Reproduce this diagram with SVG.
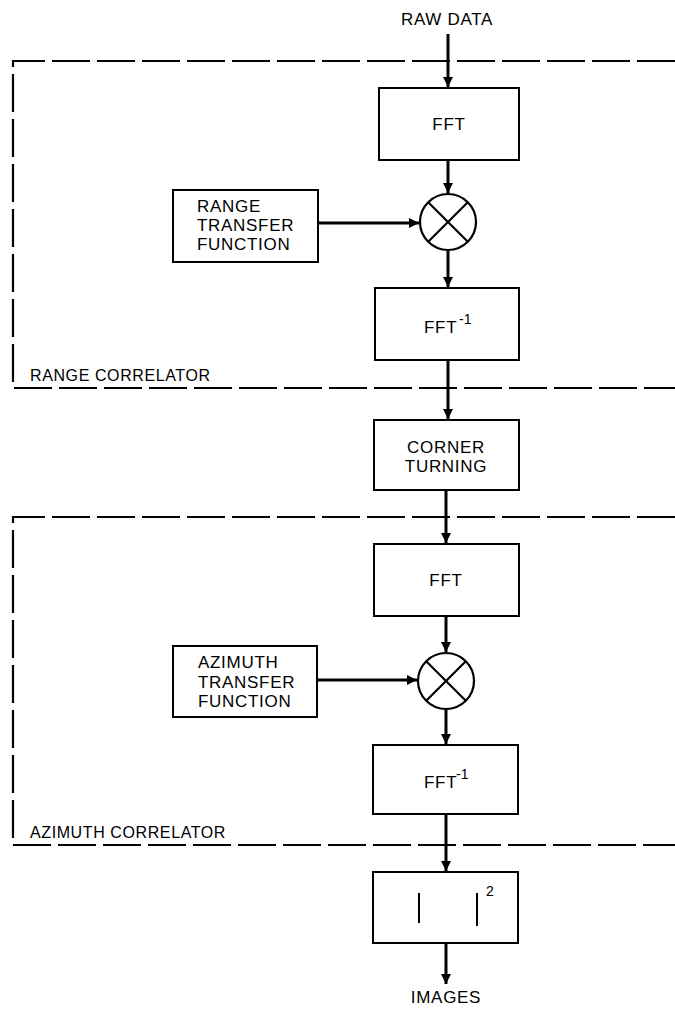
<svg xmlns="http://www.w3.org/2000/svg" width="675" height="1010" viewBox="0 0 675 1010">
<defs>
<marker id="ah" viewBox="0 0 10 16" refX="10" refY="8" markerWidth="12" markerHeight="16" markerUnits="userSpaceOnUse" orient="auto">
<path d="M0,3 L10,8 L0,13 Z" fill="#000"/>
</marker>
</defs>
<style>
.box{fill:#fff;stroke:#000;stroke-width:2}
.dash{fill:none;stroke:#000;stroke-width:2.2;stroke-dasharray:38 7}
.arr{fill:none;stroke:#000;stroke-width:3;marker-end:url(#ah)}
.t{font-family:"Liberation Sans",Arial,sans-serif;font-size:17px;letter-spacing:0.7px;fill:#000}
.lbl{font-family:"Liberation Sans",Arial,sans-serif;font-size:16px;letter-spacing:0.6px;fill:#000}
.c{text-anchor:middle}
.sup{font-family:"Liberation Sans",Arial,sans-serif;font-size:14px;fill:#000}
.x{fill:#fff;stroke:#000;stroke-width:2.2}
</style>
<rect width="675" height="1010" fill="#fff"/>
<g id="range-correlator">
<path class="dash" d="M675,61 H13 V388 H675"/>
<text class="lbl" x="30" y="381">RANGE CORRELATOR</text>
</g>
<g id="azimuth-correlator">
<path class="dash" d="M675,517 H13 V845 H675"/>
<text class="lbl" x="30" y="838">AZIMUTH CORRELATOR</text>
</g>
<g id="connectors">
<line class="arr" x1="448" y1="34" x2="448" y2="87"/>
<line class="arr" x1="448" y1="160" x2="448" y2="193"/>
<line class="arr" x1="318" y1="223" x2="419" y2="223"/>
<line class="arr" x1="448" y1="251" x2="448" y2="287"/>
<line class="arr" x1="448" y1="360" x2="448" y2="419"/>
<line class="arr" x1="446" y1="490" x2="446" y2="543"/>
<line class="arr" x1="446" y1="616" x2="446" y2="652"/>
<line class="arr" x1="317" y1="680" x2="417" y2="680"/>
<line class="arr" x1="446" y1="709" x2="446" y2="744"/>
<line class="arr" x1="446" y1="814" x2="446" y2="871"/>
<line class="arr" x1="446" y1="943" x2="446" y2="984"/>
</g>
<g id="raw-data"><text class="t c" x="447" y="25">RAW DATA</text></g>
<g id="fft1">
<rect class="box" x="379" y="88" width="140" height="72"/>
<text class="t c" x="449" y="130">FFT</text>
</g>
<g id="mult1">
<circle class="x" cx="448" cy="222" r="28"/>
<path d="M428.2,202.2 L467.8,241.8 M467.8,202.2 L428.2,241.8" stroke="#000" stroke-width="2.2"/>
</g>
<g id="range-tf">
<rect class="box" x="173" y="190" width="145" height="72"/>
<text class="t" x="197" y="212">RANGE</text>
<text class="t" x="197" y="231">TRANSFER</text>
<text class="t" x="197" y="250">FUNCTION</text>
</g>
<g id="ifft1">
<rect class="box" x="375" y="288" width="144" height="72"/>
<text class="t" x="424" y="333">FFT</text>
<text class="sup" x="459" y="324">-1</text>
</g>
<g id="corner-turning">
<rect class="box" x="374" y="420" width="145" height="70"/>
<text class="t c" x="446" y="453">CORNER</text>
<text class="t c" x="446" y="472">TURNING</text>
</g>
<g id="fft2">
<rect class="box" x="374" y="544" width="145" height="72"/>
<text class="t c" x="446" y="586">FFT</text>
</g>
<g id="mult2">
<circle class="x" cx="446" cy="681" r="28"/>
<path d="M426.2,661.2 L465.8,700.8 M465.8,661.2 L426.2,700.8" stroke="#000" stroke-width="2.2"/>
</g>
<g id="azimuth-tf">
<rect class="box" x="173" y="646" width="144" height="71"/>
<text class="t" x="198" y="668">AZIMUTH</text>
<text class="t" x="198" y="688">TRANSFER</text>
<text class="t" x="198" y="707">FUNCTION</text>
</g>
<g id="ifft2">
<rect class="box" x="373" y="745" width="145" height="69"/>
<text class="t" x="424" y="788">FFT</text>
<text class="sup" x="456" y="779">-1</text>
</g>
<g id="magnitude">
<rect class="box" x="373" y="872" width="145" height="71"/>
<line x1="419" y1="893" x2="419" y2="923" stroke="#000" stroke-width="2"/>
<line x1="477" y1="893" x2="477" y2="926" stroke="#000" stroke-width="2"/>
<text class="sup" x="486" y="896">2</text>
</g>
<g id="images"><text class="t c" x="446" y="1003">IMAGES</text></g>
</svg>
